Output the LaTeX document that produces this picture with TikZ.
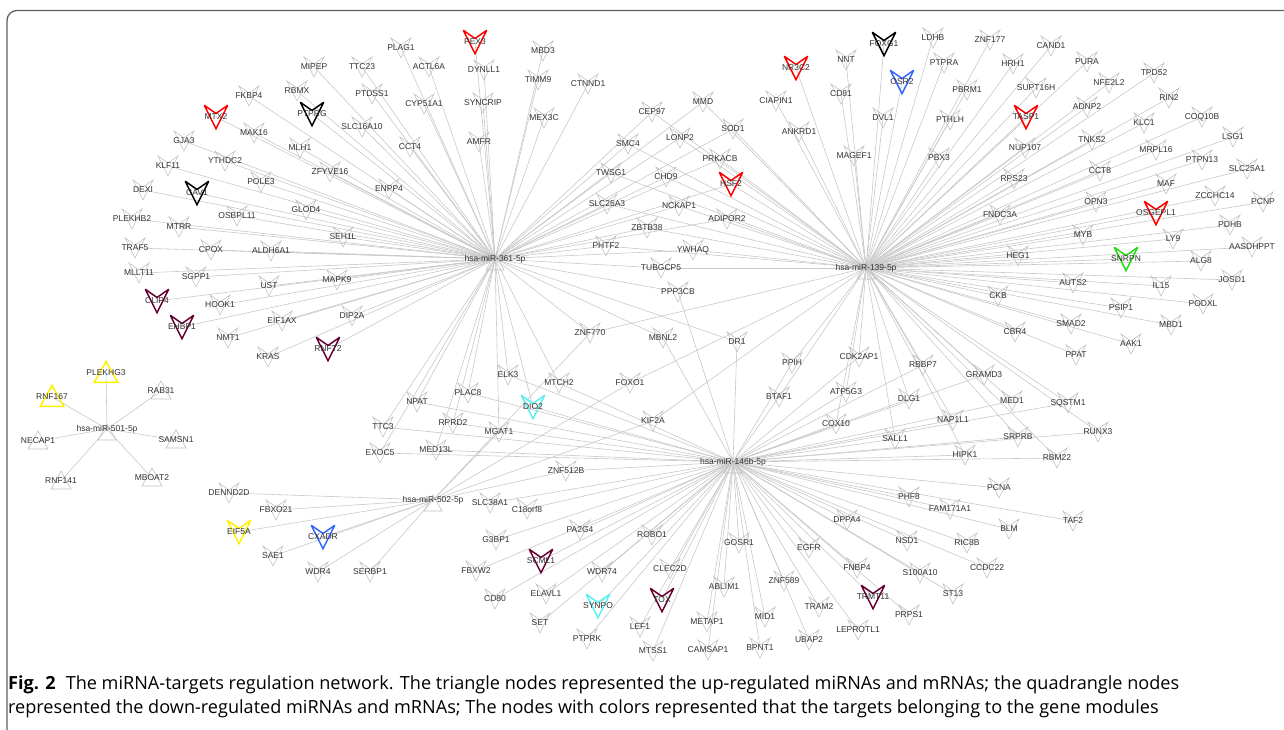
\documentclass[tikz,border=0pt]{standalone}
\usepackage{fontspec}
\setmainfont{Liberation Sans}
\newfontfamily\capfont{Open Sans}
\usetikzlibrary{backgrounds}

\definecolor{linkgray}{RGB}{200,200,200}
\definecolor{markgray}{RGB}{192,192,192}
\definecolor{modred}{RGB}{255,0,0}
\definecolor{modblack}{RGB}{0,0,0}
\definecolor{modblue}{RGB}{51,102,255}
\definecolor{modgreen}{RGB}{40,220,20}
\definecolor{modyellow}{RGB}{255,240,0}
\definecolor{modcyan}{RGB}{90,240,240}
\definecolor{modmaroon}{RGB}{102,0,51}
\definecolor{framegray}{RGB}{95,95,95}

\tikzset{
  downmark/.pic={\draw[pic actions] (-10,-10) -- (0,10) -- (10,-10) -- (0,-3) -- cycle;},
  upmark/.pic={\draw[pic actions] (-10,8) -- (0,-10) -- (10,8) -- cycle;},
  hubmark/.pic={\draw[pic actions] (-9,11) -- (0,-5) -- (9,11) -- cycle;},
  gene/.style={font=\fontsize{8.5}{9}\selectfont, text=black!80, inner sep=0.5pt},
  link/.style={draw=linkgray, line width=0.6pt},
  plain/.style={draw=markgray, line width=0.6pt},
  module/.style={draw=#1, line width=1.5pt, scale=1.17, miter limit=4},
}

\begin{document}
\begin{tikzpicture}[x=1pt, y=-1pt]
  \useasboundingbox (0,0) rectangle (1284,730);

  % Frame
  \draw[framegray, line width=1.3pt, rounded corners=10pt] (7,731) -- (7,10.5) -- (1285,10.5);

  % miRNA hubs
  \foreach \n/\x/\y/\t in {m361/495/259/hsa-miR-361-5p, m139/866/268/hsa-miR-139-5p,
      m146/733/462/hsa-miR-146b-5p, m502/433/500/hsa-miR-502-5p, m501/107/429/hsa-miR-501-5p}{
    \pic[plain] at (\x,\y) {hubmark};
    \node[gene] (\n) at (\x,\y) {\t};
  }

  % Targets of hsa-miR-361-5p
  \foreach \n/\x/\y in {MIPEP/314/67, RBMX/297/91, FKBP4/249/96, MAK16/254/133, GJA3/184/141,
      MLH1/300/148, YTHDC2/225/161, KLF11/168/166, ZFYVE16/330/172, POLE3/261/182, DEXI/143/190,
      GLOD4/306/210, OSBPL11/237/216, PLEKHB2/132/219, MTRR/179/227, TRAF5/135/248, CPOX/211/250,
      ALDH6A1/271/251, MLLT11/139/273, SGPP1/196/277, UST/269/286, MAPK9/337/280, HOOK1/220/305,
      EIF1AX/282/321, NMT1/228/338, KRAS/268/357, SEH1L/343/237, DIP2A/352/316,
      PLAG1/401/48, MBD3/543/51, TTC23/362/67, ACTL6A/429/67, DYNLL1/484/70, TIMM9/538/80,
      CTNND1/588/84, PTDSS1/372/94, CYP51A1/424/104, SYNCRIP/483/103, MEX3C/544/118,
      SLC16A10/362/127, CCT4/410/147, AMFR/479/142, ENPP4/389/189}{
    \pic[plain] at (\x,\y) {downmark};
    \node[gene] (\n) at (\x,\y) {\n};
  }

  % Shared targets in the middle
  \foreach \n/\x/\y in {CEP97/652/112, SMC4/628/144, TWSG1/611/173, SLC25A3/607/204, MMD/703/102,
      LONP2/680/138, SOD1/733/129, PRKACB/720/159, CHD9/666/177, NCKAP1/679/206, ADIPOR2/727/219,
      ZBTB38/647/228, PHTF2/606/246, YWHAQ/693/250, TUBGCP5/661/268, PPP3CB/678/292,
      MBNL2/663/338, DR1/737/342, ZNF770/590/333, ELK3/508/375, MTCH2/559/383, FOXO1/630/383,
      PLAC8/468/393, NPAT/417/402, RPRD2/453/423, TTC3/383/427, MGAT1/499/432, KIF2A/653/421,
      MED13L/436/450, EXOC5/380/453,
      PPIH/792/363, CDK2AP1/859/357, RBBP7/923/365, BTAF1/779/397, ATP5G3/846/392, DLG1/909/399,
      COX10/836/424, SALL1/895/439, NAP1L1/953/420, GRAMD3/984/375, MED1/1012/401,
      SQSTM1/1068/403, SRPRB/1018/437, RUNX3/1098/432, HIPK1/965/455, RBM22/1057/458}{
    \pic[plain] at (\x,\y) {downmark};
    \node[gene] (\n) at (\x,\y) {\n};
  }

  % Targets of hsa-miR-139-5p
  \foreach \n/\x/\y in {LDHB/933/38, PTPRA/944/63, NNT/846/60, CD81/841/94, CIAPIN1/776/101,
      DVL1/883/118, PTHLH/950/120, ANKRD1/799/132, MAGEF1/854/156, PBX3/939/158, ZNF177/990/40,
      CAND1/1051/46, HRH1/1013/64, PURA/1087/62, TPD52/1154/73, PBRM1/967/90, SUPT16H/1036/88,
      NFE2L2/1109/83, RIN2/1169/98, ADNP2/1087/107, KLC1/1144/123, COQ10B/1202/117,
      NUP107/1025/148, TNKS2/1092/140, LSG1/1233/137, MRPL16/1156/150, PTPN13/1202/160,
      SLC25A1/1247/169, RPS23/1014/179, CCT8/1100/171, MAF/1166/184, ZCCHC14/1215/196,
      PCNP/1263/202, OPN3/1096/202, FNDC3A/1000/215, PDHB/1230/225, MYB/1083/235, LY9/1173/239,
      AASDHPPT/1252/247, HEG1/1018/256, ALG8/1201/261, JOSD1/1232/280, AUTS2/1073/283,
      IL15/1161/286, CKB/998/296, PODXL/1203/304, PSIP1/1121/308, SMAD2/1071/324,
      MBD1/1171/325, CBR4/1015/332, AAK1/1131/344, PPAT/1076/355}{
    \pic[plain] at (\x,\y) {downmark};
    \node[gene] (\n) at (\x,\y) {\n};
  }

  % Targets of hsa-miR-146b-5p and hsa-miR-502-5p
  \foreach \n/\x/\y in {PCNA/999/488, TAF2/1073/521, BLM/1009/529, FAM171A1/950/509,
      CCDC22/987/568, RIC8B/967/543, PHF8/909/497, DPPA4/847/520, NSD1/907/541, GOSR1/739/543,
      EGFR/809/548, CLEC2D/670/569, FNBP4/857/568, S100A10/920/573, ABLIM1/724/587,
      ZNF589/784/581, ST13/953/594, TRAM2/819/607, PRPS1/909/615, METAP1/707/622, MID1/765/617,
      LEPROTL1/858/630, UBAP2/809/640, CAMSAP1/708/650, BPNT1/760/648, MTSS1/653/651,
      LEF1/640/627, PTPRK/587/639, SET/540/623, ELAVL1/546/594, CD80/495/599, WDR74/602/572,
      FBXW2/476/571, G3BP1/496/540, PA2G4/580/530, ROBO1/652/535, C18orf8/527/509,
      SLC38A1/490/503, ZNF512B/566/471,
      DENND2D/229/493, FBXO21/276/510, SAE1/273/556, WDR4/318/572, SERBP1/370/572}{
    \pic[plain] at (\x,\y) {downmark};
    \node[gene] (\n) at (\x,\y) {\n};
  }

  % Module members (coloured)
  \foreach \n/\x/\y/\c in {PEX3/475/42/modred, MTX2/216/117/modred, PTPRG/312/114/modblack,
      CAV1/197/193/modblack, CLIP4/157/301/modmaroon, EHBP1/182/327/modmaroon,
      RNFT2/328/349/modmaroon, NR3C2/796/68/modred, FOXG1/884/44/modblack, OSR2/902/82/modblue,
      HSF2/731/184/modred, TASP1/1026/117/modred, OSGEPL1/1156/213/modred,
      SNRPN/1126/259/modgreen, DIO2/533/407/modcyan, EIF5A/239/532/modyellow,
      CXADR/323/537/modblue, SCML1/541/561/modmaroon, SYNPO/598/606/modcyan,
      TOX/662/600/modmaroon, TRMT11/873/597/modmaroon}{
    \pic[module=\c] at (\x,\y) {downmark};
    \node[gene] (\n) at (\x,\y) {\n};
  }

  % Up-regulated targets of hsa-miR-501-5p
  \foreach \n/\x/\y in {RAB31/161/391, NECAP1/38/441, SAMSN1/176/440, RNF141/61/481, MBOAT2/152/478}{
    \pic[plain] at (\x,\y) {upmark};
    \node[gene] (\n) at (\x,\y) {\n};
  }
  \foreach \n/\x/\y in {PLEKHG3/106/373, RNF167/52/397}{
    \pic[module=modyellow] at (\x,\y) {upmark};
    \node[gene] (\n) at (\x,\y) {\n};
  }

  % Connectors
  \begin{scope}[on background layer]
    \foreach \g in {MIPEP, RBMX, FKBP4, PTPRG, MTX2, MAK16, GJA3, MLH1, YTHDC2, KLF11, ZFYVE16,
        POLE3, DEXI, CAV1, GLOD4, OSBPL11, PLEKHB2, MTRR, TRAF5, CPOX, ALDH6A1, MLLT11, SGPP1,
        UST, MAPK9, CLIP4, HOOK1, EIF1AX, EHBP1, NMT1, KRAS, RNFT2, SEH1L, DIP2A, PLAG1, PEX3,
        MBD3, TTC23, ACTL6A, DYNLL1, TIMM9, CTNND1, PTDSS1, CYP51A1, SYNCRIP, MEX3C, SLC16A10,
        CCT4, AMFR, ENPP4, CEP97, SMC4, TWSG1, SLC25A3, MMD, LONP2, SOD1, PRKACB, CHD9, HSF2,
        NCKAP1, ADIPOR2, ZBTB38, PHTF2, YWHAQ, TUBGCP5, PPP3CB, MBNL2, DR1, MTCH2, ELK3, DIO2,
        PLAC8, NPAT, RPRD2, TTC3, MED13L, EXOC5, ZNF770, MGAT1}
      \draw[link] (m361.center) -- (\g.center);
    \foreach \g in {LDHB, PTPRA, NNT, FOXG1, NR3C2, OSR2, CD81, CIAPIN1, DVL1, PTHLH, ANKRD1,
        MAGEF1, PBX3, ZNF177, CAND1, HRH1, PURA, TPD52, PBRM1, SUPT16H, NFE2L2, RIN2, TASP1,
        ADNP2, KLC1, COQ10B, NUP107, TNKS2, LSG1, MRPL16, PTPN13, SLC25A1, RPS23, CCT8, MAF,
        ZCCHC14, PCNP, OPN3, OSGEPL1, FNDC3A, PDHB, MYB, LY9, AASDHPPT, HEG1, SNRPN, ALG8, JOSD1,
        AUTS2, IL15, CKB, PODXL, PSIP1, SMAD2, MBD1, CBR4, AAK1, PPAT, CEP97, SMC4, TWSG1,
        SLC25A3, MMD, LONP2, SOD1, PRKACB, CHD9, HSF2, NCKAP1, ADIPOR2, ZBTB38, PHTF2, YWHAQ,
        TUBGCP5, ZNF770, FOXO1, KIF2A, PPIH, CDK2AP1, RBBP7, BTAF1, ATP5G3, DLG1, COX10, SALL1,
        NAP1L1, GRAMD3, MED1, SQSTM1, SRPRB, RUNX3, HIPK1, RBM22}
      \draw[link] (m139.center) -- (\g.center);
    \foreach \g in {PPP3CB, MBNL2, DR1, MTCH2, ELK3, DIO2, PLAC8, NPAT, RPRD2, TTC3, MED13L, EXOC5,
        PPIH, CDK2AP1, RBBP7, BTAF1, ATP5G3, DLG1, COX10, SALL1, NAP1L1, GRAMD3, MED1, SQSTM1,
        SRPRB, RUNX3, HIPK1, RBM22, PCNA, TAF2, BLM, FAM171A1, CCDC22, RIC8B, PHF8, DPPA4, NSD1,
        GOSR1, EGFR, CLEC2D, FNBP4, S100A10, ABLIM1, ZNF589, ST13, TOX, TRMT11, TRAM2, PRPS1,
        METAP1, MID1, LEPROTL1, UBAP2, CAMSAP1, BPNT1, MTSS1, LEF1, PTPRK, SET, SYNPO, ELAVL1,
        CD80, WDR74, SCML1, FBXW2, G3BP1, PA2G4, ROBO1, C18orf8, SLC38A1, ZNF512B}
      \draw[link] (m146.center) -- (\g.center);
    \foreach \g in {DENND2D, FBXO21, EIF5A, CXADR, SAE1, WDR4, SERBP1, ZNF512B, ZNF770, MGAT1,
        FOXO1, KIF2A}
      \draw[link] (m502.center) -- (\g.center);
    \foreach \g in {PLEKHG3, RNF167, RAB31, NECAP1, SAMSN1, RNF141, MBOAT2}
      \draw[link] (m501.center) -- (\g.center);
  \end{scope}

  % Caption
  \node[anchor=base west, inner sep=0pt, font=\capfont\fontsize{18.1}{20}\selectfont] (capA) at (8,689)
    {\textbf{Fig. 2}\hspace{0.3em} The miRNA-targets regulation network. The triangle nodes represented the up-regulated miRNAs and mRNAs; the quadrangle nodes};
  \node[anchor=base west, inner sep=0pt, font=\capfont\fontsize{18.1}{20}\selectfont] (capB) at (8,713)
    {represented the down-regulated miRNAs and mRNAs; The nodes with colors represented that the targets belonging to the gene modules};
\end{tikzpicture}
\end{document}
